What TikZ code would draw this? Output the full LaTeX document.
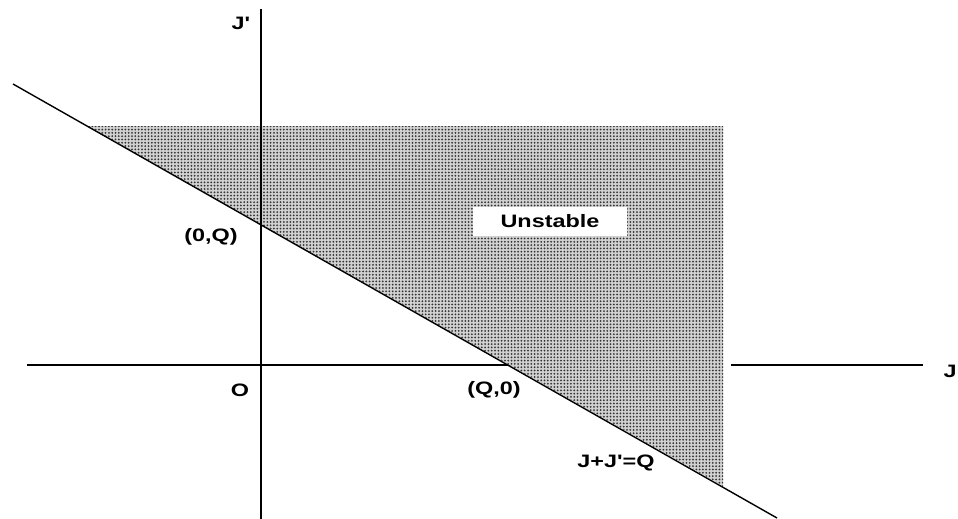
\documentclass[tikz,border=0pt]{standalone}
\usepackage{fontspec}
\newfontfamily\labfont{Liberation Sans}
\usetikzlibrary{patterns.meta}
\begin{document}
\begin{tikzpicture}[x=1pt,y=-1pt,
  lbl/.style={font=\labfont\fontsize{18}{20}\selectfont\bfseries, inner sep=0pt, xscale=1.3},
  axis/.style={line width=1.6pt},
  diag/.style={line width=1.4pt}]
\useasboundingbox (0,0) rectangle (958,519);
% coordinates
\coordinate (hL) at (27,365);
\coordinate (hM) at (518,365);
\coordinate (hR1) at (731,365);
\coordinate (hR2) at (923,365);
\coordinate (vT) at (261,9);
\coordinate (vB) at (261,519);
\coordinate (dA) at (13,84);
\coordinate (dB) at (777,518);
\coordinate (sTL) at (87,126);
\coordinate (sTR) at (723,126);
\coordinate (sBR) at (723,486);
% horizontal axis, left part
\draw[axis] (hL) -- (hM);
% shaded region
\fill[black!18] (sTL) -- (sTR) -- (sBR) -- cycle;
\fill[pattern={Dots[distance=3.3pt, radius=1pt]}, pattern color=black!80] (sTL) -- (sTR) -- (sBR) -- cycle;
% horizontal axis, right part
\draw[axis] (hR1) -- (hR2);
% vertical axis
\draw[axis] (vT) -- (vB);
% line J+J'=Q
\draw[diag] (dA) -- (dB);
% labels
\node[lbl, fill=white, minimum width=118pt, minimum height=29pt] (unst) at (550,221.5) {Unstable};
\node[lbl] (jp) at (241,23) {J'};
\node[lbl, anchor=east] (j) at (957,371) {J};
\node[lbl] (oq) at (211,237) {(0,Q)};
\node[lbl] (o) at (240,390) {O};
\node[lbl] (qo) at (494,390) {(Q,0)};
\node[lbl] (eq) at (616,463) {J+J'=Q};
\end{tikzpicture}
\end{document}
